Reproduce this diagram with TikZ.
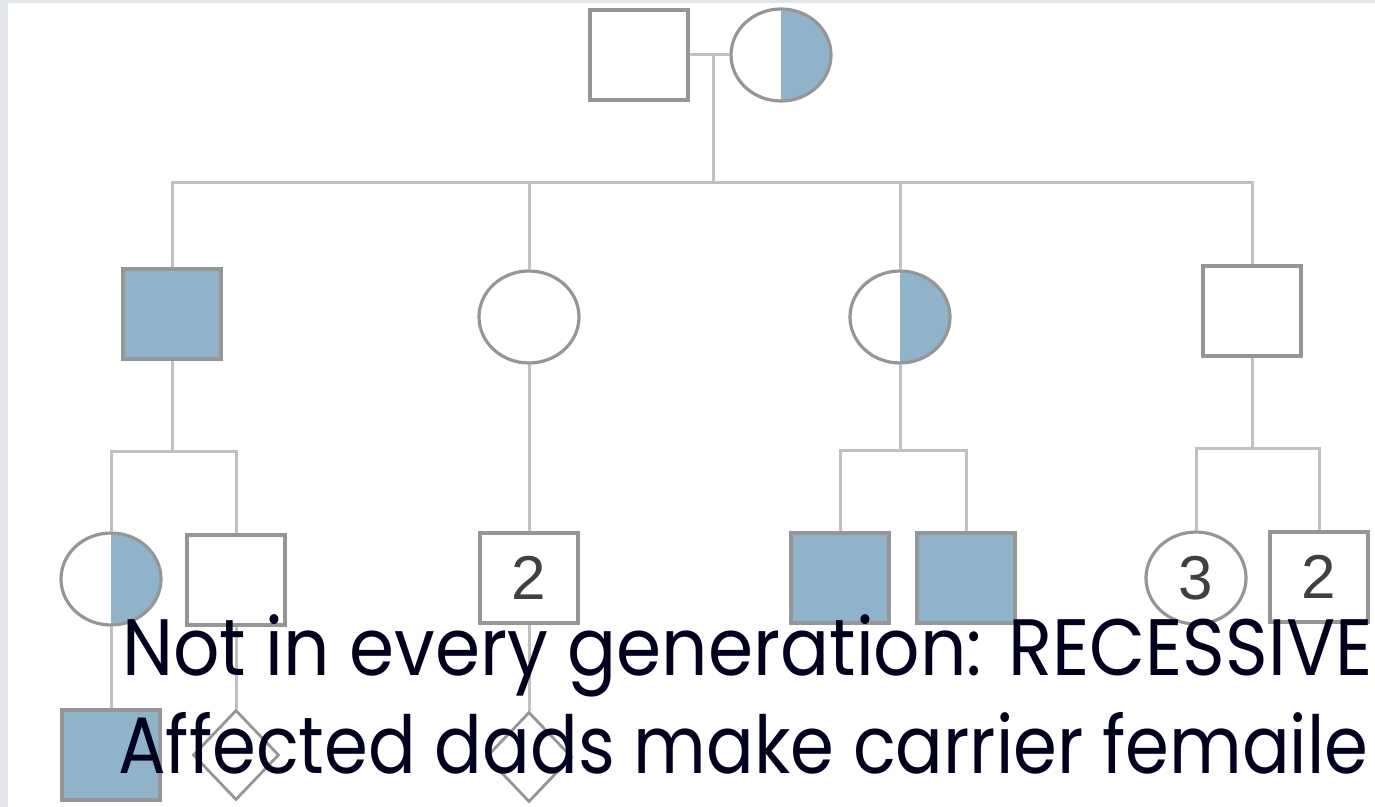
\documentclass[tikz,border=0pt]{standalone}
\usepackage{fontspec}
\setmainfont{Poppins}
\newfontfamily\numfont{Liberation Sans}
\usetikzlibrary{shapes.geometric}
\definecolor{edge}{RGB}{150,150,150}
\definecolor{kin}{RGB}{192,192,192}
\definecolor{trait}{RGB}{143,179,200}
\definecolor{ink}{RGB}{0,0,30}
\definecolor{frame}{RGB}{226,230,234}

\tikzset{
  male/.style={rectangle,draw=edge,line width=1.6pt,fill=white,minimum width=49pt,minimum height=45pt,inner sep=0pt},
  female/.style={ellipse,draw=edge,line width=1.6pt,fill=white,minimum width=50pt,minimum height=46pt,inner sep=0pt},
  unknown/.style={diamond,draw=edge,line width=1.4pt,fill=white,minimum width=43pt,minimum height=45pt,inner sep=0pt},
  affected/.style={fill=trait},
  carrier/.style={path picture={\fill[trait] (path picture bounding box.north) rectangle (path picture bounding box.south east);}},
  count/.style={font=\numfont\fontsize{31}{31}\selectfont,text=black!75},
  kinline/.style={draw=kin,line width=1.5pt},
  caption/.style={anchor=base west,inner sep=0pt,text=ink,font=\fontsize{40}{44}\selectfont}
}
\newcommand{\captext}[1]{\resizebox{625pt}{\height}{#1}}

\begin{document}
\begin{tikzpicture}[x=0.5pt,y=-0.5pt]
\useasboundingbox (0,0) rectangle (1375,807);
\fill[frame] (0,0) rectangle (1375,807);
\fill[white] (8,3) rectangle (1375,807);

% generation I
\node[male] (gpa) at (639,55) {};
\node[female,carrier] (gma) at (781,55) {};
\coordinate (mar) at (713,55);
\coordinate (sib) at (713,183);

% generation II
\node[male,affected] (son1) at (172,314) {};
\node[female] (dau1) at (529,317) {};
\node[female,carrier] (dau2) at (900,317) {};
\node[male] (son2) at (1252,311) {};

% generation III
\node[female,carrier] (g1) at (111,579) {};
\node[male] (g2) at (236,580) {};
\node[male] (g3) at (529,578) {};
\node[count] at (g3) {2};
\node[male,affected] (g4) at (840,578) {};
\node[male,affected] (g5) at (966,578) {};
\node[female] (g6) at (1196,578) {};
\node[count] at (g6) {3};
\node[male] (g7) at (1319,577) {};
\node[count] at (g7) {2};

% generation IV
\node[male,affected] (h1) at (111,755) {};
\node[unknown] (h2) at (236,755) {};
\node[unknown] (h3) at (529,757) {};

\draw[kinline] (gpa.east)--(gma.west) (mar)--(sib)
  (son1.north)|-(sib)-|(son2.north)
  (dau1.north)--(dau1.north|-sib) (dau2.north)--(dau2.north|-sib)
  (son1.south)--++(0,91)coordinate(s1) (g1.north)|-(s1)-|(g2.north)
  (dau1.south)--(g3.north)
  (dau2.south)--++(0,86)coordinate(s2) (g4.north)|-(s2)-|(g5.north)
  (son2.south)--++(0,91)coordinate(s3) (g6.north)|-(s3)-|(g7.north)
  (g1.south)--(h1.north) (g2.south)--(h2.north) (g3.south)--(h3.north);

\node[caption] (line1) at (122,675) {\captext{Not in every generation: RECESSIVE}};
\node[caption] (line2) at (118,773) {\captext{Affected dads make carrier femaile}};
\end{tikzpicture}
\end{document}
